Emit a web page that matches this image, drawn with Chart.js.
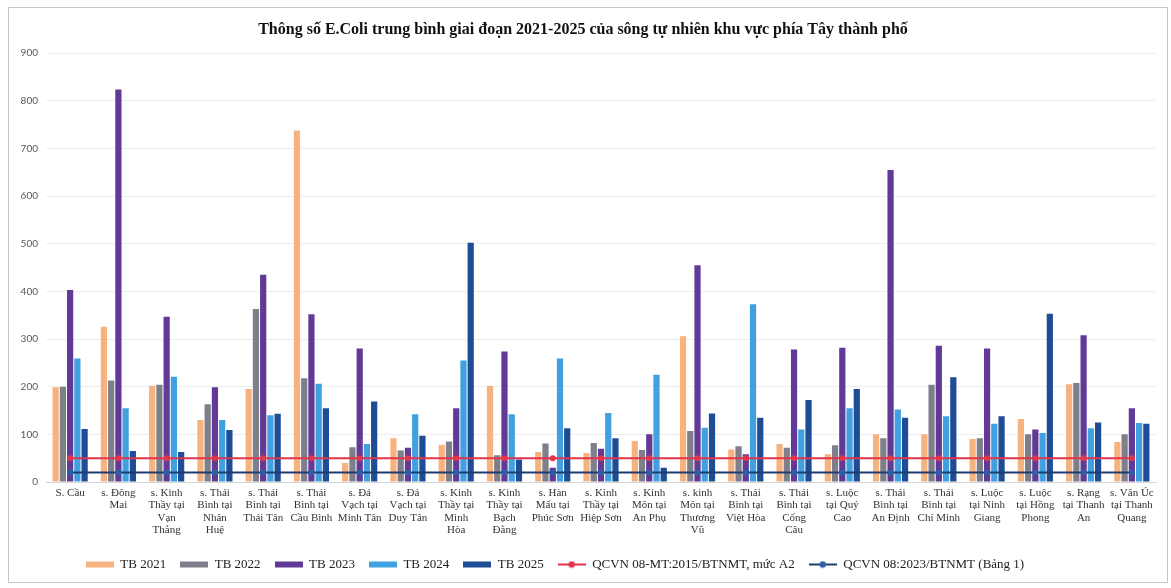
<!DOCTYPE html>
<html>
<head>
<meta charset="utf-8">
<script src="https://cdn.jsdelivr.net/npm/chart.js@4.4.1/dist/chart.umd.min.js"></script>
<style>
  html, body { margin: 0; padding: 0; background: #fff; }
  #wrap { position: relative; width: 1171px; height: 588px; }
</style>
</head>
<body>
<div id="wrap"><canvas id="ecoli"></canvas></div>
<script>
// Điểm quan trắc (nhãn trục hoành, mỗi dòng một phần tử)
const stations = [
  ['S. Cầu'],
  ['s. Đông', 'Mai'],
  ['s. Kinh', 'Thầy tại', 'Vạn', 'Thắng'],
  ['s. Thái', 'Bình tại', 'Nhân', 'Huệ'],
  ['s. Thái', 'Bình tại', 'Thái Tân'],
  ['s. Thái', 'Bình tại', 'Cầu Bình'],
  ['s. Đá', 'Vạch tại', 'Minh Tân'],
  ['s. Đá', 'Vạch tại', 'Duy Tân'],
  ['s. Kinh', 'Thầy tại', 'Minh', 'Hòa'],
  ['s. Kinh', 'Thầy tại', 'Bạch', 'Đằng'],
  ['s. Hàn', 'Mấu tại', 'Phúc Sơn'],
  ['s. Kinh', 'Thầy tại', 'Hiệp Sơn'],
  ['s. Kinh', 'Môn tại', 'An Phụ'],
  ['s. kinh', 'Môn tại', 'Thương', 'Vũ'],
  ['s. Thái', 'Bình tại', 'Việt Hòa'],
  ['s. Thái', 'Bình tại', 'Cống', 'Câu'],
  ['s. Luộc', 'tại Quý', 'Cao'],
  ['s. Thái', 'Bình tại', 'An Định'],
  ['s. Thái', 'Bình tại', 'Chí Minh'],
  ['s. Luộc', 'tại Ninh', 'Giang'],
  ['s. Luộc', 'tại Hồng', 'Phong'],
  ['s. Rạng', 'tại Thanh', 'An'],
  ['s. Văn Úc', 'tại Thanh', 'Quang']
];

// Giá trị E.Coli trung bình theo năm (MPN/100ml)
const tb2021 = [199, 326, 202, 130, 195, 738, 40, 92, 78, 202, 63, 61, 86, 306, 68, 80, 58, 100, 100, 90, 132, 205, 84];
const tb2022 = [200, 213, 204, 163, 363, 218, 73, 66, 85, 56, 81, 82, 67, 107, 75, 72, 77, 92, 204, 92, 100, 208, 100];
const tb2023 = [403, 824, 347, 199, 435, 352, 280, 72, 155, 274, 30, 70, 100, 455, 58, 278, 282, 655, 286, 280, 110, 308, 155];
const tb2024 = [259, 155, 221, 130, 140, 206, 80, 142, 255, 142, 259, 145, 225, 114, 373, 110, 155, 152, 138, 122, 103, 113, 124];
const tb2025 = [111, 65, 63, 109, 143, 155, 169, 97, 502, 47, 113, 92, 30, 144, 135, 172, 195, 135, 220, 138, 353, 125, 122];

// Giới hạn quy chuẩn
const qcvn2015A2 = [50, 50, 50, 50, 50, 50, 50, 50, 50, 50, 50, 50, 50, 50, 50, 50, 50, 50, 50, 50, 50, 50, 50];
const qcvn2023B1 = [20, 20, 20, 20, 20, 20, 20, 20, 20, 20, 20, 20, 20, 20, 20, 20, 20, 20, 20, 20, 20, 20, 20];

const yTicks = [0, 100, 200, 300, 400, 500, 600, 700, 800, 900];

const serif = 'Liberation Serif, Times New Roman, serif';

function barSet(label, data, color) {
  return { label, data, backgroundColor: color, borderWidth: 0, order: 2,
           categoryPercentage: 0.75, barPercentage: 0.86 };
}

function lineSet(label, data, color, dotColor) {
  return { type: 'line', label, data, borderColor: color, backgroundColor: dotColor,
           borderWidth: 2, pointRadius: 3, pointBorderWidth: 0, pointBackgroundColor: dotColor,
           fill: false, order: 1 };
}

// small canvas swatches for the legend: a flat bar or a line with a dot
function legendIcon(ds) {
  const c = document.createElement('canvas');
  c.width = 28; c.height = 8;
  const g = c.getContext('2d');
  if (ds.type === 'line') {
    g.fillStyle = ds.borderColor;
    g.fillRect(0, 3, 28, 2);
    g.beginPath();
    g.arc(14, 4, 3.2, 0, Math.PI * 2);
    g.fillStyle = ds.pointBackgroundColor;
    g.fill();
  } else {
    g.fillStyle = ds.backgroundColor;
    g.fillRect(0, 1, 28, 6);
  }
  return c;
}

const frame = {
  id: 'frame',
  beforeDraw(chart) {
    const c = chart.ctx;
    c.save();
    c.strokeStyle = '#c6c6c6';
    c.lineWidth = 1;
    c.strokeRect(8.5, 7.5, 1159, 575);
    c.restore();
  }
};

// legend row sits a little left of the plot centre
const legendNudge = {
  id: 'legendNudge',
  afterLayout(chart) {
    chart.legend.left -= 28;
    chart.legend.right -= 28;
  }
};

new Chart(document.getElementById('ecoli'), {
  type: 'bar',
  data: {
    labels: stations,
    datasets: [
      barSet('TB 2021', tb2021, '#F6B27F'),
      barSet('TB 2022', tb2022, '#7E7F8A'),
      barSet('TB 2023', tb2023, '#613A98'),
      barSet('TB 2024', tb2024, '#40A0E0'),
      barSet('TB 2025', tb2025, '#1F4D95'),
      lineSet('QCVN 08-MT:2015/BTNMT, mức A2', qcvn2015A2, '#E2344B', '#E2344B'),
      lineSet('QCVN 08:2023/BTNMT (Bảng 1)', qcvn2023B1, '#1E3C6E', '#2D5EA8')
    ]
  },
  options: {
    responsive: true,
    maintainAspectRatio: false,
    animation: false,
    layout: { padding: { left: 10, right: 15, top: 0, bottom: 7 } },
    plugins: {
      title: {
        display: true,
        text: 'Thông số E.Coli trung bình giai đoạn 2021-2025 của sông tự nhiên khu vực phía Tây thành phố',
        font: { family: serif, size: 16, weight: 'bold' },
        color: '#111',
        padding: { top: 20, bottom: 14 }
      },
      legend: {
        position: 'bottom',
        labels: {
          usePointStyle: true,
          pointStyleWidth: 28,
          boxHeight: 6,
          padding: 14,
          color: '#222',
          font: { family: serif, size: 13 },
          generateLabels(chart) {
            return chart.data.datasets.map((ds, i) => ({
              text: ds.label,
              datasetIndex: i,
              pointStyle: legendIcon(ds),
              hidden: !chart.isDatasetVisible(i),
              fontColor: '#222',
              lineWidth: 0,
              strokeStyle: 'transparent',
              fillStyle: ds.backgroundColor
            }));
          }
        }
      },
      tooltip: { enabled: false }
    },
    scales: {
      x: {
        grid: { display: false, drawTicks: false },
        border: { color: '#d6d6d6' },
        ticks: {
          autoSkip: false, maxRotation: 0, minRotation: 0, padding: 5,
          color: '#333',
          font: { family: serif, size: 11, lineHeight: 1.12 }
        },
        afterFit(scale) { scale.height = 62; }
      },
      y: {
        min: 0,
        max: 900,
        afterBuildTicks(scale) { scale.ticks = yTicks.map(v => ({ value: v })); },
        ticks: { padding: 8, color: '#595959', font: { family: 'Lato, sans-serif', size: 10 } },
        grid: { color: '#ededed', drawTicks: false },
        border: { display: false },
        afterFit(scale) { scale.width = 36; }
      }
    }
  },
  plugins: [frame, legendNudge]
});
</script>
</body>
</html>
